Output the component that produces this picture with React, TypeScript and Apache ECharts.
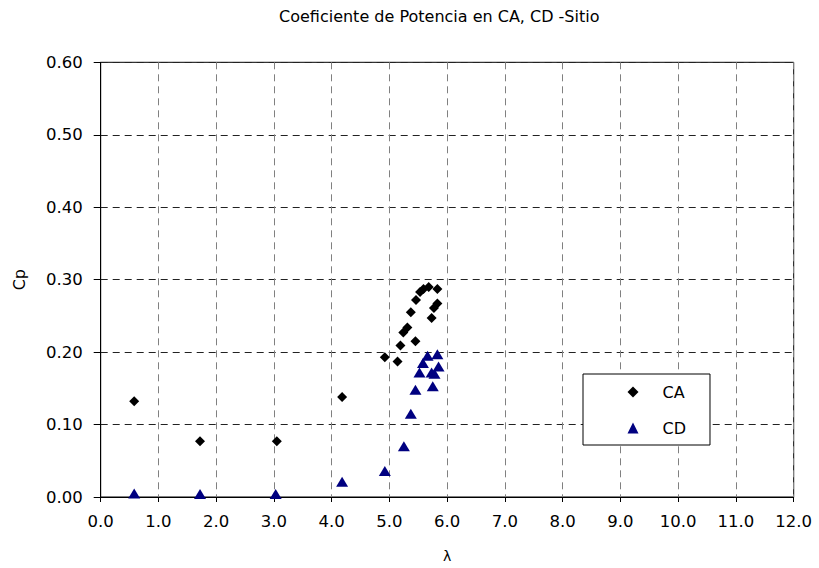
import React, { useEffect, useRef } from "react";
import * as echarts from "echarts";

const caLambda = [0.58, 1.72, 3.05, 4.18, 4.92, 5.14, 5.19, 5.45, 5.24, 5.31, 5.37, 5.46, 5.53, 5.59, 5.68, 5.83, 5.73, 5.77, 5.83];
const caCp = [0.132, 0.077, 0.077, 0.138, 0.193, 0.187, 0.209, 0.215, 0.227, 0.234, 0.255, 0.272, 0.283, 0.287, 0.29, 0.287, 0.247, 0.261, 0.267];
const cdLambda = [0.58, 1.72, 3.03, 4.18, 4.92, 5.25, 5.37, 5.45, 5.75, 5.52, 5.73, 5.78, 5.58, 5.85, 5.66, 5.83];
const cdCp = [0.005, 0.004, 0.004, 0.021, 0.036, 0.07, 0.115, 0.148, 0.153, 0.172, 0.172, 0.17, 0.185, 0.18, 0.195, 0.197];

const FONT = "DejaVu Sans, Liberation Sans, Arial, sans-serif";

export default function App() {
  const ref = useRef<HTMLDivElement>(null);
  useEffect(() => {
    if (!ref.current) return;
    const chart = echarts.init(ref.current, null, { renderer: "svg" });
    chart.setOption({
      animation: false,
      backgroundColor: "#fff",
      title: {
        text: "Coeficiente de Potencia en CA, CD -Sitio",
        left: 279,
        top: 8,
        padding: 0,
        textStyle: { fontFamily: FONT, fontSize: 16, fontWeight: "normal", color: "#000" },
      },
      grid: {
        left: 100.7,
        right: 25.3,
        top: 62.3,
        bottom: 65.3,
        show: true,
        borderColor: "#000",
        borderWidth: 1,
        backgroundColor: "transparent",
      },
      legend: {
        orient: "vertical",
        left: 583,
        top: 374,
        padding: [10, 24, 9, 44.5],
        itemWidth: 11,
        itemHeight: 11,
        itemGap: 20,
        borderColor: "#000",
        borderWidth: 1,
        borderRadius: 0,
        backgroundColor: "#fff",
        textStyle: { fontFamily: FONT, fontSize: 16, color: "#000", lineHeight: 11, padding: [0, 0, 0, 19] },
        data: ["CA", "CD"],
      },
      xAxis: {
        type: "value",
        min: 0,
        max: 12,
        interval: 1,
        name: "λ",
        nameLocation: "middle",
        nameGap: 52,
        nameTextStyle: { fontFamily: FONT, fontSize: 14, color: "#000" },
        axisLine: { lineStyle: { color: "#000", width: 1 } },
        axisTick: { show: true, length: 5, lineStyle: { color: "#000" } },
        axisLabel: { fontFamily: FONT, fontSize: 16.5, color: "#000", margin: 16, formatter: (v: number) => v.toFixed(1) },
        splitLine: { show: true, lineStyle: { color: "#808080", type: [7, 5], width: 1 } },
      },
      yAxis: {
        type: "value",
        min: 0,
        max: 0.6,
        interval: 0.1,
        name: "Cp",
        nameLocation: "middle",
        nameGap: 73,
        nameRotate: 90,
        nameTextStyle: { fontFamily: FONT, fontSize: 16, color: "#000" },
        axisLine: { show: true, lineStyle: { color: "#000", width: 1 } },
        axisTick: { show: true, length: 7, lineStyle: { color: "#000" } },
        axisLabel: { fontFamily: FONT, fontSize: 16.5, color: "#000", margin: 18, formatter: (v: number) => v.toFixed(2) },
        splitLine: { show: true, lineStyle: { color: "#222", type: [7, 5], width: 1 } },
      },
      series: [
        {
          name: "CA",
          type: "scatter",
          symbol: "diamond",
          symbolSize: [10, 10],
          itemStyle: { color: "#000", opacity: 1 },
          data: caLambda.map((x, i) => [x, caCp[i]]),
          z: 3,
        },
        {
          name: "CD",
          type: "scatter",
          symbol: "triangle",
          symbolSize: [12, 10],
          itemStyle: { color: "#000080", opacity: 1 },
          data: cdLambda.map((x, i) => [x, cdCp[i]]),
          z: 2,
        },
      ],
    });
    return () => chart.dispose();
  }, []);
  return <div ref={ref} style={{ width: 819, height: 568, position: "absolute", left: 0, top: 0 }} />;
}
